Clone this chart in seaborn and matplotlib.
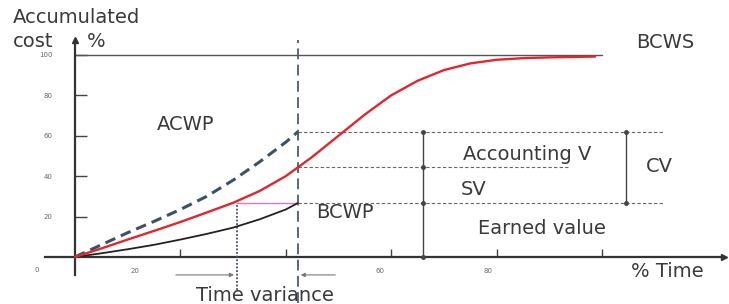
import matplotlib
matplotlib.use("Agg")
import matplotlib.pyplot as plt
import numpy as np
import pandas as pd
import seaborn as sns

# ---------------- data ----------------
bcws_time = [0, 5, 10, 15, 20, 25, 30, 35, 40, 45, 50, 55, 60, 65, 70, 75, 80, 85, 90, 95, 98.7]
bcws_cost = [0, 4.2, 8.6, 12.9, 17.3, 22.0, 26.8, 32.6, 40.0, 49.5, 60.0, 70.5, 80.0, 87.2,
             92.5, 95.8, 97.6, 98.4, 98.8, 99.0, 99.2]
acwp_time = [0, 5, 10, 15, 20, 25, 30, 35, 40, 42.3]
acwp_cost = [0, 6.0, 12.0, 17.6, 23.5, 30.0, 38.0, 47.0, 56.8, 62.0]
bcwp_time = [0, 5, 10, 15, 20, 25, 30, 35, 40, 42.3]
bcwp_cost = [0, 1.8, 3.8, 6.0, 8.6, 11.4, 14.5, 18.6, 23.5, 26.7]
status_time = 42.3       # time now
earned_time = 30.7       # time at which BCWS equals BCWP
bcws_now = 44.5          # BCWS at time now
budget = 100
budget_end = 100
x_ticks = [20, 40, 60, 80, 100]
y_ticks = [20, 40, 60, 80, 100]
y_tick_labels = ["20", "40", "60", "80", "100"]
x_tick_labels = ["20", "60", "80", "100"]
x_tick_label_at = [11.4, 57.9, 78.4, 100]

# ---------------- style ----------------
sns.set_theme(style="white")
plt.rcParams["font.family"] = ["DejaVu Sans"]
TXT = "#3a3a3a"

fig = plt.figure(figsize=(7.29, 3.04), dpi=100)
ax = fig.add_axes([0, 0, 1, 1])
ax.set_xlim(-14.23, 124.1)
ax.set_ylim(-23.3, 127.2)

df_bcws = pd.DataFrame({"t": bcws_time, "c": bcws_cost})
df_acwp = pd.DataFrame({"t": acwp_time, "c": acwp_cost})
df_bcwp = pd.DataFrame({"t": bcwp_time, "c": bcwp_cost})

# budget line
ax.plot([0, budget_end], [budget, budget], color="#555555", lw=1.0, zorder=2)

sns.lineplot(data=df_bcwp, x="t", y="c", ax=ax, color="#222222", lw=1.3, zorder=4)
sns.lineplot(data=df_acwp, x="t", y="c", ax=ax, color="#3d5166", lw=2.2,
             dashes=False, zorder=4).lines[-1].set_dashes((3.5, 2))
sns.lineplot(data=df_bcws, x="t", y="c", ax=ax, color="#e3262d", lw=1.7, zorder=5)
for ln in ax.lines:
    ln.set_solid_joinstyle("round")
    ln.set_solid_capstyle("round")

# time-now vertical dashed line
ax.plot([status_time, status_time], [-23, 107.4], color="#4b5d70", lw=1.3,
        dashes=(6, 3), zorder=3)
# earned time dotted line
ax.plot([earned_time, earned_time], [-16.3, bcwp_cost[-1]], color="#44505e", lw=1.3,
        linestyle=(0, (1, 1)), zorder=3)
# pink connector
ax.plot([earned_time, status_time], [bcwp_cost[-1]] * 2, color="#d77ac8", lw=1.0, zorder=3)

# horizontal dashed guides
hd = dict(color="#666666", lw=0.8, dashes=(3, 2), zorder=2)
ax.plot([status_time, 111.6], [acwp_cost[-1]] * 2, **hd)
ax.plot([status_time, 93.5], [bcws_now] * 2, **hd)
ax.plot([status_time, 111.6], [bcwp_cost[-1]] * 2, **hd)

# measurement verticals
ax.plot([66, 66], [0, acwp_cost[-1]], color="#444444", lw=1.0, zorder=3)
ax.plot([66] * 4, [0, bcwp_cost[-1], bcws_now, acwp_cost[-1]], ls="none", marker="o",
        ms=2.5, color="#444444", zorder=3)
ax.plot([104.5, 104.5], [bcwp_cost[-1], acwp_cost[-1]], color="#444444", lw=1.0, zorder=3)
ax.plot([104.5] * 2, [bcwp_cost[-1], acwp_cost[-1]], ls="none", marker="o",
        ms=2.5, color="#444444", zorder=3)

# axes as spines
for s in ["top", "right"]:
    ax.spines[s].set_visible(False)
ax.spines["left"].set_position(("data", 0))
ax.spines["bottom"].set_position(("data", 0))
ax.spines["left"].set_bounds(-8.9, 107.4)
ax.spines["bottom"].set_bounds(-5.7, 123.0)
for s in ["left", "bottom"]:
    ax.spines[s].set_color("#333333")
    ax.spines[s].set_linewidth(1.6)
    ax.spines[s].set_visible(True)
ax.plot([0], [107.4], marker="^", ms=5, color="#333333", clip_on=False, zorder=6)
ax.plot([123.2], [0], marker=">", ms=5, color="#333333", clip_on=False, zorder=6)

ax.set_xticks(x_ticks)
ax.set_xticklabels([])
ax.set_xticks(x_tick_label_at, minor=True)
ax.set_xticklabels(x_tick_labels, minor=True)
ax.set_yticks(y_ticks)
ax.set_yticklabels(y_tick_labels)
ax.tick_params(axis="x", which="major", direction="in", length=5.5, width=1.0,
               color="#444444", bottom=True)
ax.tick_params(axis="x", which="minor", length=0, pad=8, labelsize=5,
               labelcolor="#666666", bottom=True)
ax.tick_params(axis="y", which="major", direction="in", length=8.5, width=1.0,
               color="#444444", pad=16, labelsize=5, labelcolor="#666666", left=True)
ax.set_xlabel("")
ax.set_ylabel("")
ax.grid(False)
ax.text(-7.2, -6.4, "0", fontsize=5, color="#666666", ha="center", va="center")

# time variance arrows
ap = dict(arrowstyle="-|>", color="#777777", lw=0.8, mutation_scale=6)
ax.annotate("", xy=(earned_time, -8.9), xytext=(18.6, -8.9), arrowprops=ap)
ax.annotate("", xy=(status_time, -8.9), xytext=(49.9, -8.9), arrowprops=ap)

# texts
fs = 14
ax.text(-11.8, 118.3, "Accumulated", fontsize=fs, color=TXT, ha="left", va="center")
ax.text(-11.8, 106.5, "cost", fontsize=fs, color=TXT, ha="left", va="center")
ax.text(2.2, 106.5, "%", fontsize=fs, color=TXT, ha="left", va="center")
ax.text(112.0, 106.4, "BCWS", fontsize=fs, color=TXT, ha="center", va="center")
ax.text(20.9, 65.8, "ACWP", fontsize=fs, color=TXT, ha="center", va="center")
ax.text(85.8, 50.5, "Accounting V", fontsize=fs, color=TXT, ha="center", va="center")
ax.text(110.8, 45.0, "CV", fontsize=fs, color=TXT, ha="center", va="center")
ax.text(75.7, 33.2, "SV", fontsize=fs, color=TXT, ha="center", va="center")
ax.text(51.2, 21.8, "BCWP", fontsize=fs, color=TXT, ha="center", va="center")
ax.text(88.6, 13.9, "Earned value", fontsize=fs, color=TXT, ha="center", va="center")
ax.text(105.5, -7.4, "% Time", fontsize=fs, color=TXT, ha="left", va="center")
ax.text(36.0, -19.3, "Time variance", fontsize=fs, color=TXT, ha="center", va="center")

fig.savefig("out.png", dpi=100)
